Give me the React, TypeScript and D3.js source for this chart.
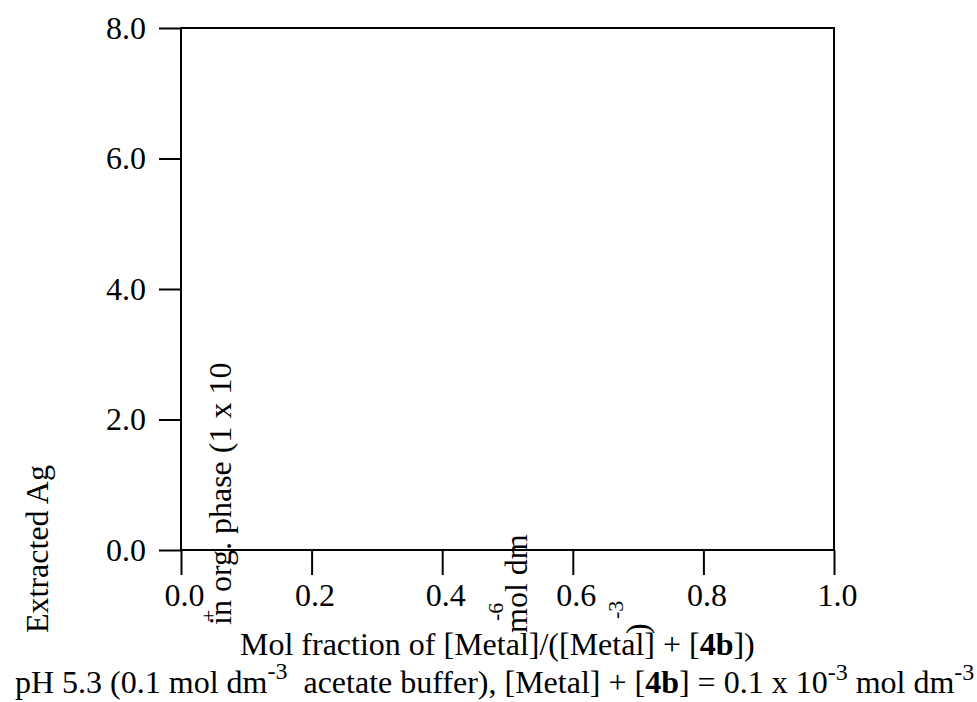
import React, { useEffect, useRef } from 'react';
import * as d3 from 'd3';

// the original plot has no data drawn, only the frame and the labels
const xTicks = [0, 0.2, 0.4, 0.6, 0.8, 1.0];
const yTicks = [0, 2, 4, 6, 8];
const xDomain = [0, 1];
const yDomain = [0, 8];

const FONT = '"Liberation Serif", "Times New Roman", Times, serif';
const SIZE = 32;

const App = () => {
  const chartRef = useRef<SVGSVGElement | null>(null);

  useEffect(() => {
    const width = 977;
    const height = 702;
    const left = 181, right = 834, top = 28, bottom = 550;

    const svg = d3.select(chartRef.current)
      .attr('width', width)
      .attr('height', height);
    svg.selectAll('*').remove();

    const x = d3.scaleLinear().domain(xDomain).range([left, right]);
    const y = d3.scaleLinear().domain(yDomain).range([bottom, top]);
    const fmt = d3.format('.1f');

    // y axis
    const yAxis = svg.append('g')
      .attr('transform', `translate(${left},0)`)
      .call(d3.axisLeft(y).tickValues(yTicks).tickSize(22).tickSizeOuter(0).tickPadding(13).tickFormat(d => fmt(d as number)));
    yAxis.select('.domain').remove();
    yAxis.attr('font-family', FONT).attr('font-size', SIZE);
    yAxis.selectAll('.tick line').attr('stroke', '#000').attr('stroke-width', 2);
    yAxis.selectAll('.tick text').attr('fill', '#000');

    // x axis
    const xAxis = svg.append('g')
      .attr('transform', `translate(0,${bottom})`)
      .call(d3.axisBottom(x).tickValues(xTicks).tickSize(25).tickSizeOuter(0).tickPadding(8).tickFormat(d => fmt(d as number)));
    xAxis.select('.domain').remove();
    xAxis.attr('font-family', FONT).attr('font-size', SIZE);
    xAxis.selectAll('.tick line').attr('stroke', '#000').attr('stroke-width', 2);
    xAxis.selectAll('.tick text').attr('fill', '#000').attr('x', 3);

    // frame
    svg.append('rect')
      .attr('x', left)
      .attr('y', top)
      .attr('width', right - left)
      .attr('height', bottom - top)
      .attr('fill', 'none')
      .attr('stroke', '#000')
      .attr('stroke-width', 2);

    // y label, broken into rotated pieces like the source
    const rot = (tx: number, ty: number, txt: string, size = SIZE) => {
      svg.append('text')
        .attr('transform', `translate(${tx},${ty}) rotate(-90)`)
        .attr('font-family', FONT)
        .attr('font-size', size)
        .attr('fill', '#000')
        .text(txt);
    };
    rot(48, 633, 'Extracted Ag');
    rot(231, 625, 'in org. phase (1 x 10');
    rot(216, 622, '+', 22);
    rot(503, 621, '-6', 22);
    rot(527, 633, 'mol dm');
    rot(623, 619, '-3', 22);
    rot(648, 634, ')');

    // x label
    const l1 = svg.append('text')
      .attr('x', 240)
      .attr('y', 655)
      .attr('font-family', FONT)
      .attr('font-size', SIZE)
      .attr('fill', '#000');
    l1.append('tspan').text('Mol fraction of [Metal]/([Metal] + [');
    l1.append('tspan').attr('font-weight', 'bold').text('4b');
    l1.append('tspan').text('])');

    // conditions line
    const l2 = svg.append('text')
      .attr('x', 15)
      .attr('y', 693)
      .attr('font-family', FONT)
      .attr('font-size', SIZE)
      .attr('fill', '#000');
    l2.append('tspan').text('pH 5.3 (0.1 mol dm');
    l2.append('tspan').attr('font-size', 24).attr('dy', -14).text('-3');
    l2.append('tspan').attr('dy', 14).text('\u00a0 acetate buffer), [Metal] + [');
    l2.append('tspan').attr('font-weight', 'bold').text('4b');
    l2.append('tspan').text('] = 0.1 x 10');
    l2.append('tspan').attr('font-size', 24).attr('dy', -13).text('-3');
    l2.append('tspan').attr('dy', 13).text(' mol dm');
    l2.append('tspan').attr('font-size', 24).attr('dy', -13).text('-3');
  }, []);

  return (
    <svg ref={chartRef} style={{ position: 'absolute', left: 0, top: 0, display: 'block' }}></svg>
  );
};

export default App;
